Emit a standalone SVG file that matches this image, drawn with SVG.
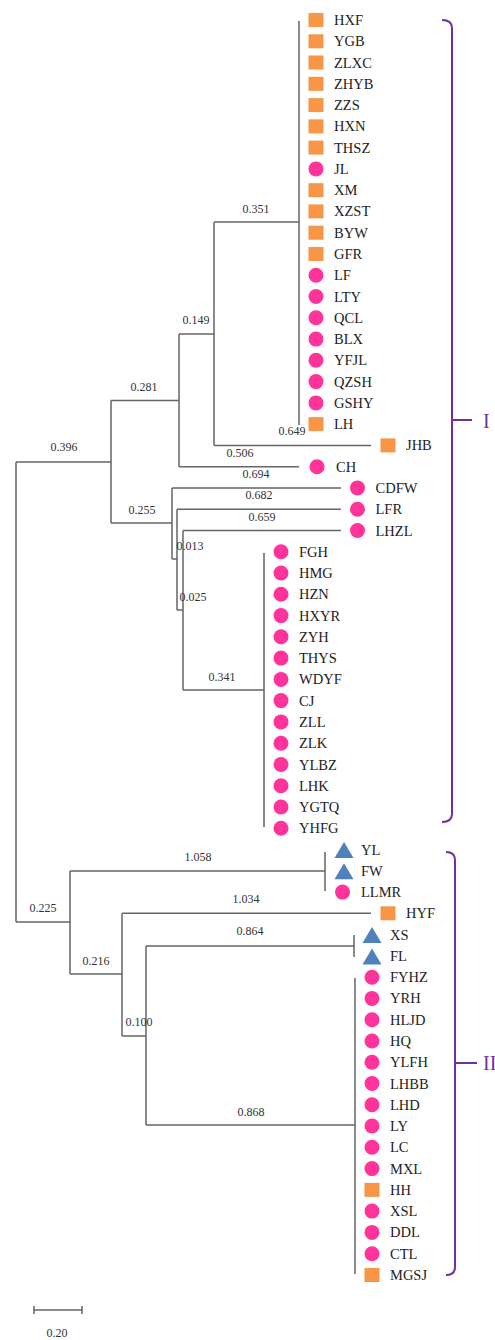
<svg xmlns="http://www.w3.org/2000/svg" xmlns:xlink="http://www.w3.org/1999/xlink" width="495" height="1340" viewBox="0 0 495 1340">
<style>
.leaf{font-family:"Liberation Serif","Times New Roman",serif;font-size:14.5px;fill:#222}
.bl{font-family:"Liberation Serif","Times New Roman",serif;font-size:12px;fill:#333;text-anchor:middle}
.tree{fill:none;stroke:#666;stroke-width:1.5}
.brk{fill:none;stroke:#7030A0;stroke-width:2}
.cl{font-family:"Liberation Serif","Times New Roman",serif;font-size:20px;fill:#7030A0}
</style>
<defs>
<rect id="sq" x="-7.5" y="-7" width="15" height="14" fill="#F79646"/>
<circle id="ci" r="7.5" fill="#FF3399"/>
<polygon id="tr" points="0,-8 9.5,8 -9.5,8" fill="#4F81BD"/>
</defs>
<rect width="495" height="1340" fill="#fff"/>

<g id="connectors" class="tree">
<path d="M299,21V425 M214,222H299 M214,222V445.4 M214,445.4H371 M179,334H214 M179,334V466.7 M179,466.7H299 M111,400.5H179 M111,400.5V523 M111,523H172 M16,462H111 M16,462V922 M16,922H70"/>
<path d="M172,487.9V559 M172,487.9H341 M172,559H177 M177,509.2V610 M177,509.2H341 M177,610H183 M183,530.5V690 M183,530.5H341 M183,690H264 M264,553V827"/>
<path d="M70,871V974 M70,871H325 M325,852V891 M70,974H122 M122,913.3V1036 M122,913.3H371 M122,1036H146 M146,946V1125 M146,946H354 M354,935V957 M146,1125H355 M355,978V1274"/>
<path d="M34,1310H82 M34,1306V1314 M82,1306V1314"/>
</g>

<g id="branch-labels">
<text class="bl" x="256" y="213">0.351</text>
<text class="bl" x="196" y="324">0.149</text>
<text class="bl" x="292" y="435">0.649</text>
<text class="bl" x="240" y="457">0.506</text>
<text class="bl" x="144" y="391">0.281</text>
<text class="bl" x="64" y="451">0.396</text>
<text class="bl" x="256" y="478">0.694</text>
<text class="bl" x="259" y="499">0.682</text>
<text class="bl" x="262" y="521">0.659</text>
<text class="bl" x="142" y="514">0.255</text>
<text class="bl" x="190" y="550">0.013</text>
<text class="bl" x="193" y="601">0.025</text>
<text class="bl" x="222" y="681">0.341</text>
<text class="bl" x="198" y="861">1.058</text>
<text class="bl" x="43" y="912">0.225</text>
<text class="bl" x="246" y="903">1.034</text>
<text class="bl" x="250" y="935">0.864</text>
<text class="bl" x="96" y="965">0.216</text>
<text class="bl" x="139" y="1026">0.100</text>
<text class="bl" x="251" y="1116">0.868</text>
<text class="bl" x="57" y="1337">0.20</text>
</g>

<g id="leaf-HXF"><use href="#sq" x="316" y="20"/><text class="leaf" x="334" y="25">HXF</text></g>
<g id="leaf-YGB"><use href="#sq" x="316" y="41.3"/><text class="leaf" x="334" y="46.3">YGB</text></g>
<g id="leaf-ZLXC"><use href="#sq" x="316" y="62.5"/><text class="leaf" x="334" y="67.5">ZLXC</text></g>
<g id="leaf-ZHYB"><use href="#sq" x="316" y="83.8"/><text class="leaf" x="334" y="88.8">ZHYB</text></g>
<g id="leaf-ZZS"><use href="#sq" x="316" y="105.1"/><text class="leaf" x="334" y="110.1">ZZS</text></g>
<g id="leaf-HXN"><use href="#sq" x="316" y="126.4"/><text class="leaf" x="334" y="131.4">HXN</text></g>
<g id="leaf-THSZ"><use href="#sq" x="316" y="147.6"/><text class="leaf" x="334" y="152.6">THSZ</text></g>
<g id="leaf-JL"><use href="#ci" x="316" y="168.9"/><text class="leaf" x="334" y="173.9">JL</text></g>
<g id="leaf-XM"><use href="#sq" x="316" y="190.2"/><text class="leaf" x="334" y="195.2">XM</text></g>
<g id="leaf-XZST"><use href="#sq" x="316" y="211.4"/><text class="leaf" x="334" y="216.4">XZST</text></g>
<g id="leaf-BYW"><use href="#sq" x="316" y="232.7"/><text class="leaf" x="334" y="237.7">BYW</text></g>
<g id="leaf-GFR"><use href="#sq" x="316" y="254"/><text class="leaf" x="334" y="259">GFR</text></g>
<g id="leaf-LF"><use href="#ci" x="316" y="275.2"/><text class="leaf" x="334" y="280.2">LF</text></g>
<g id="leaf-LTY"><use href="#ci" x="316" y="296.5"/><text class="leaf" x="334" y="301.5">LTY</text></g>
<g id="leaf-QCL"><use href="#ci" x="316" y="317.8"/><text class="leaf" x="334" y="322.8">QCL</text></g>
<g id="leaf-BLX"><use href="#ci" x="316" y="339.1"/><text class="leaf" x="334" y="344.1">BLX</text></g>
<g id="leaf-YFJL"><use href="#ci" x="316" y="360.3"/><text class="leaf" x="334" y="365.3">YFJL</text></g>
<g id="leaf-QZSH"><use href="#ci" x="316" y="381.6"/><text class="leaf" x="334" y="386.6">QZSH</text></g>
<g id="leaf-GSHY"><use href="#ci" x="316" y="402.9"/><text class="leaf" x="334" y="407.9">GSHY</text></g>
<g id="leaf-LH"><use href="#sq" x="316" y="424.1"/><text class="leaf" x="334" y="429.1">LH</text></g>
<g id="leaf-JHB"><use href="#sq" x="388" y="445.4"/><text class="leaf" x="406" y="450.4">JHB</text></g>
<g id="leaf-CH"><use href="#ci" x="317" y="466.7"/><text class="leaf" x="336" y="471.7">CH</text></g>
<g id="leaf-CDFW"><use href="#ci" x="357.5" y="487.9"/><text class="leaf" x="375.5" y="492.9">CDFW</text></g>
<g id="leaf-LFR"><use href="#ci" x="357.5" y="509.2"/><text class="leaf" x="375.5" y="514.2">LFR</text></g>
<g id="leaf-LHZL"><use href="#ci" x="357.5" y="530.5"/><text class="leaf" x="375.5" y="535.5">LHZL</text></g>
<g id="leaf-FGH"><use href="#ci" x="281" y="551.8"/><text class="leaf" x="299" y="556.8">FGH</text></g>
<g id="leaf-HMG"><use href="#ci" x="281" y="573"/><text class="leaf" x="299" y="578">HMG</text></g>
<g id="leaf-HZN"><use href="#ci" x="281" y="594.3"/><text class="leaf" x="299" y="599.3">HZN</text></g>
<g id="leaf-HXYR"><use href="#ci" x="281" y="615.6"/><text class="leaf" x="299" y="620.6">HXYR</text></g>
<g id="leaf-ZYH"><use href="#ci" x="281" y="636.8"/><text class="leaf" x="299" y="641.8">ZYH</text></g>
<g id="leaf-THYS"><use href="#ci" x="281" y="658.1"/><text class="leaf" x="299" y="663.1">THYS</text></g>
<g id="leaf-WDYF"><use href="#ci" x="281" y="679.4"/><text class="leaf" x="299" y="684.4">WDYF</text></g>
<g id="leaf-CJ"><use href="#ci" x="281" y="700.6"/><text class="leaf" x="299" y="705.6">CJ</text></g>
<g id="leaf-ZLL"><use href="#ci" x="281" y="721.9"/><text class="leaf" x="299" y="726.9">ZLL</text></g>
<g id="leaf-ZLK"><use href="#ci" x="281" y="743.2"/><text class="leaf" x="299" y="748.2">ZLK</text></g>
<g id="leaf-YLBZ"><use href="#ci" x="281" y="764.5"/><text class="leaf" x="299" y="769.5">YLBZ</text></g>
<g id="leaf-LHK"><use href="#ci" x="281" y="785.7"/><text class="leaf" x="299" y="790.7">LHK</text></g>
<g id="leaf-YGTQ"><use href="#ci" x="281" y="807"/><text class="leaf" x="299" y="812">YGTQ</text></g>
<g id="leaf-YHFG"><use href="#ci" x="281" y="828.3"/><text class="leaf" x="299" y="833.3">YHFG</text></g>
<g id="leaf-YL"><use href="#tr" x="344" y="850"/><text class="leaf" x="361" y="854.5">YL</text></g>
<g id="leaf-FW"><use href="#tr" x="344" y="871.3"/><text class="leaf" x="361" y="875.8">FW</text></g>
<g id="leaf-LLMR"><use href="#ci" x="342.5" y="892.1"/><text class="leaf" x="361" y="897.1">LLMR</text></g>
<g id="leaf-HYF"><use href="#sq" x="388" y="913.3"/><text class="leaf" x="406" y="918.3">HYF</text></g>
<g id="leaf-XS"><use href="#tr" x="372" y="935.1"/><text class="leaf" x="390" y="939.6">XS</text></g>
<g id="leaf-FL"><use href="#tr" x="372" y="956.4"/><text class="leaf" x="390" y="960.9">FL</text></g>
<g id="leaf-FYHZ"><use href="#ci" x="372" y="977.2"/><text class="leaf" x="390" y="982.2">FYHZ</text></g>
<g id="leaf-YRH"><use href="#ci" x="372" y="998.4"/><text class="leaf" x="390" y="1003.4">YRH</text></g>
<g id="leaf-HLJD"><use href="#ci" x="372" y="1019.7"/><text class="leaf" x="390" y="1024.7">HLJD</text></g>
<g id="leaf-HQ"><use href="#ci" x="372" y="1041"/><text class="leaf" x="390" y="1046">HQ</text></g>
<g id="leaf-YLFH"><use href="#ci" x="372" y="1062.2"/><text class="leaf" x="390" y="1067.2">YLFH</text></g>
<g id="leaf-LHBB"><use href="#ci" x="372" y="1083.5"/><text class="leaf" x="390" y="1088.5">LHBB</text></g>
<g id="leaf-LHD"><use href="#ci" x="372" y="1104.8"/><text class="leaf" x="390" y="1109.8">LHD</text></g>
<g id="leaf-LY"><use href="#ci" x="372" y="1126"/><text class="leaf" x="390" y="1131">LY</text></g>
<g id="leaf-LC"><use href="#ci" x="372" y="1147.3"/><text class="leaf" x="390" y="1152.3">LC</text></g>
<g id="leaf-MXL"><use href="#ci" x="372" y="1168.6"/><text class="leaf" x="390" y="1173.6">MXL</text></g>
<g id="leaf-HH"><use href="#sq" x="372" y="1189.9"/><text class="leaf" x="390" y="1194.9">HH</text></g>
<g id="leaf-XSL"><use href="#ci" x="372" y="1211.1"/><text class="leaf" x="390" y="1216.1">XSL</text></g>
<g id="leaf-DDL"><use href="#ci" x="372" y="1232.4"/><text class="leaf" x="390" y="1237.4">DDL</text></g>
<g id="leaf-CTL"><use href="#ci" x="372" y="1253.7"/><text class="leaf" x="390" y="1258.7">CTL</text></g>
<g id="leaf-MGSJ"><use href="#sq" x="372" y="1275"/><text class="leaf" x="390" y="1280">MGSJ</text></g>

<g id="cluster-I">
<path class="brk" d="M442,20 Q452,20 452,28 V814 Q452,822 442,822 M452,420 H472"/>
<text class="cl" x="483" y="428">I</text>
</g>
<g id="cluster-II">
<path class="brk" d="M446,852 Q455,852 455,860 V1267 Q455,1275 446,1275 M455,1063 H477"/>
<text class="cl" x="483" y="1070">II</text>
</g>
</svg>
